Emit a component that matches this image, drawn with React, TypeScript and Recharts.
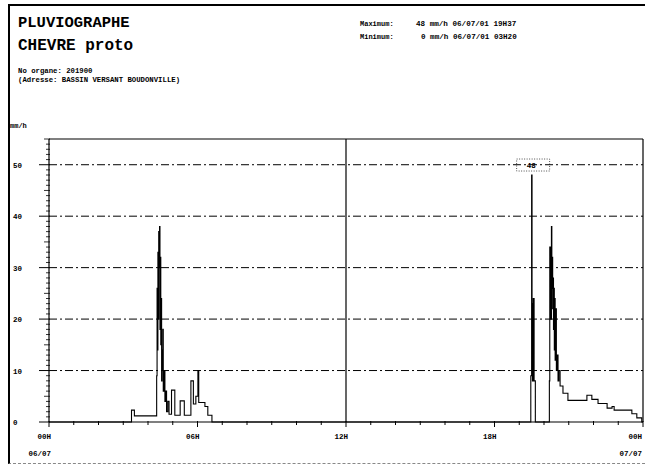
import { LineChart, Line, XAxis, YAxis, ReferenceLine, ReferenceDot } from "recharts";

// time in minutes from 06/07 00H, intensity in mm/h (step record)
const MINUTES = [
  0, 200, 207, 261, 262, 263, 264, 265, 266, 267, 268, 269, 270, 271, 272, 273,
  274, 275, 276, 277, 279, 281, 283, 285, 288, 291, 297, 305, 318, 328, 344, 350,
  356, 361, 363, 378, 385, 395,
  1168, 1170, 1171, 1172, 1174, 1176, 1179,
  1213, 1214, 1216, 1218, 1219, 1220, 1221, 1222, 1223, 1224, 1225, 1226, 1227,
  1228, 1230, 1232, 1234, 1236, 1239, 1246, 1258, 1304, 1316, 1331, 1353, 1365,
  1370, 1413, 1425, 1437, 1440,
];
const RAIN = [
  0, 2.3, 1.2, 9, 26, 14, 33, 20, 37, 30, 38, 18, 32, 15, 24, 8,
  10, 14, 18, 6, 10, 4, 6, 2, 4, 1.5, 6.2, 1.3, 4.1, 1.3, 8, 3.5,
  5, 10, 3.8, 3, 1.3, 0,
  9, 48, 23, 8, 24, 8, 0,
  8, 34, 20, 38, 26, 32, 22, 28, 18, 26, 14, 24, 12,
  22, 10, 13, 8, 10, 7, 5.6, 4.2, 5.2, 4.4, 3.6, 2.7, 3,
  2.3, 1.6, 0.8, 0, 0,
];

const Y_TICKS = Array.from({ length: 56 }, (_, i) => i);
const X_TICKS = Array.from({ length: 25 }, (_, i) => i * 60);
const GRID_LEVELS = [10, 20, 30, 40, 50];
const HOUR_LABELS: Record<number, string> = { 0: "00H", 360: "06H", 720: "12H", 1080: "18H", 1440: "00H" };
const DATE_LABELS: Record<number, string> = { 0: "06/07", 1440: "07/07" };
const PEAK = { t: 1170, v: 48 };

const MONO = '"Liberation Mono", "DejaVu Sans Mono", monospace';

const data = MINUTES.map((t, i) => ({ t, v: RAIN[i] }));

function YTick({ x, y, payload }: any) {
  const v = payload.value;
  const major = v % 10 === 0;
  const len = major ? 10 : v % 5 === 0 ? 5 : 3;
  return (
    <g>
      <line x1={x - len} x2={x + 1} y1={y} y2={y} stroke="#000" strokeWidth={major ? 1 : 0.8} />
      {major && v <= 50 && (
        <text x={x - 36} y={y + 3} fontFamily={MONO} fontWeight="bold" fontSize={7.5} fill="#000">
          {v}
        </text>
      )}
    </g>
  );
}

function XTick({ x, y, payload }: any) {
  const v = payload.value;
  const label = HOUR_LABELS[v];
  const date = DATE_LABELS[v];
  const tx = v === 1440 ? x - 1 : x + 2;
  return (
    <g>
      <line x1={x} x2={x} y1={y - 1} y2={y + (label ? 5 : 3)} stroke="#000" strokeWidth={1} />
      {label && (
        <text x={tx} y={y + 17} textAnchor="end" fontFamily={MONO} fontWeight="bold" fontSize={7.5} fill="#000">
          {label}
        </text>
      )}
      {date && (
        <text x={tx} y={y + 34} textAnchor="end" fontFamily={MONO} fontWeight="bold" fontSize={7.5} fill="#000">
          {date}
        </text>
      )}
    </g>
  );
}

function PeakTag(props: any) {
  const { viewBox } = props;
  const cx = viewBox.x + viewBox.width / 2;
  const cy = viewBox.y + viewBox.height / 2;
  return (
    <g>
      <rect x={cx - 15} y={cy - 16} width={33} height={12} fill="none" stroke="#000" strokeWidth={0.7} strokeDasharray="1 1.5" />
      <text x={cx - 5} y={cy - 7} fontFamily={MONO} fontWeight="bold" fontSize={7.5} fill="#000">
        {PEAK.v}
      </text>
    </g>
  );
}

const txt = (size: number, bold = true): any => ({ fontFamily: MONO, fontSize: size, fontWeight: bold ? "bold" : "normal", fill: "#000" });

export default function App() {
  return (
    <div style={{ position: "fixed", left: 0, top: 0, width: 645, height: 466, background: "#fff", overflow: "hidden" }}>
      <div
        style={{
          position: "absolute", left: 8, top: 4, width: 660, height: 457,
          borderLeft: "2px solid #000", borderTop: "2px solid #000", borderBottom: "1px dashed #888",
        }}
      />
      <svg width={645} height={466} style={{ position: "absolute", left: 0, top: 0 }}>
        <text x={18} y={27} {...txt(15.5)}>PLUVIOGRAPHE</text>
        <text x={18} y={50} {...txt(16)}>CHEVRE proto</text>
        <text x={18} y={73} {...txt(7.3)}>No organe: 201900</text>
        <text x={18} y={82} {...txt(7.3)}>(Adresse: BASSIN VERSANT BOUDONVILLE)</text>
        <text x={360} y={26} {...txt(7)}>Maximum:</text>
        <text x={416} y={26} {...txt(7.6)}>48 mm/h 06/07/01 19H37</text>
        <text x={360} y={38.5} {...txt(7)}>Minimum:</text>
        <text x={421} y={38.5} {...txt(7.6)}>0 mm/h 06/07/01 03H20</text>
        <text x={10} y={128} {...txt(7)}>mm/h</text>
      </svg>
      <div style={{ position: "absolute", left: 0, top: 0 }}>
        <LineChart width={645} height={466} data={data} margin={{ top: 139, right: 2, left: 10, bottom: 14 }}>
          <XAxis
            dataKey="t"
            type="number"
            domain={[0, 1440]}
            ticks={X_TICKS}
            interval={0}
            tickSize={0}
            tickMargin={0}
            height={30}
            tick={<XTick />}
            axisLine={{ stroke: "#000", strokeWidth: 1.2 }}
            tickLine={false}
          />
          <YAxis
            type="number"
            domain={[0, 55]}
            ticks={Y_TICKS}
            interval={0}
            tickSize={0}
            tickMargin={0}
            width={39}
            tick={<YTick />}
            axisLine={{ stroke: "#000", strokeWidth: 1.2 }}
            tickLine={false}
          />
          {GRID_LEVELS.map((g) => (
            <ReferenceLine key={g} y={g} stroke="#000" strokeWidth={1} strokeDasharray="8 3 2 3" />
          ))}
          <ReferenceLine y={55} stroke="#000" strokeWidth={1.2} />
          <ReferenceLine x={1440} stroke="#000" strokeWidth={1.2} />
          <ReferenceLine x={720} stroke="#000" strokeWidth={1.2} />
          <Line
            type="stepAfter"
            dataKey="v"
            stroke="#000"
            strokeWidth={1.1}
            dot={false}
            isAnimationActive={false}
          />
          <ReferenceDot x={PEAK.t} y={PEAK.v} r={1} fill="none" stroke="none" label={PeakTag} />
        </LineChart>
      </div>
    </div>
  );
}
